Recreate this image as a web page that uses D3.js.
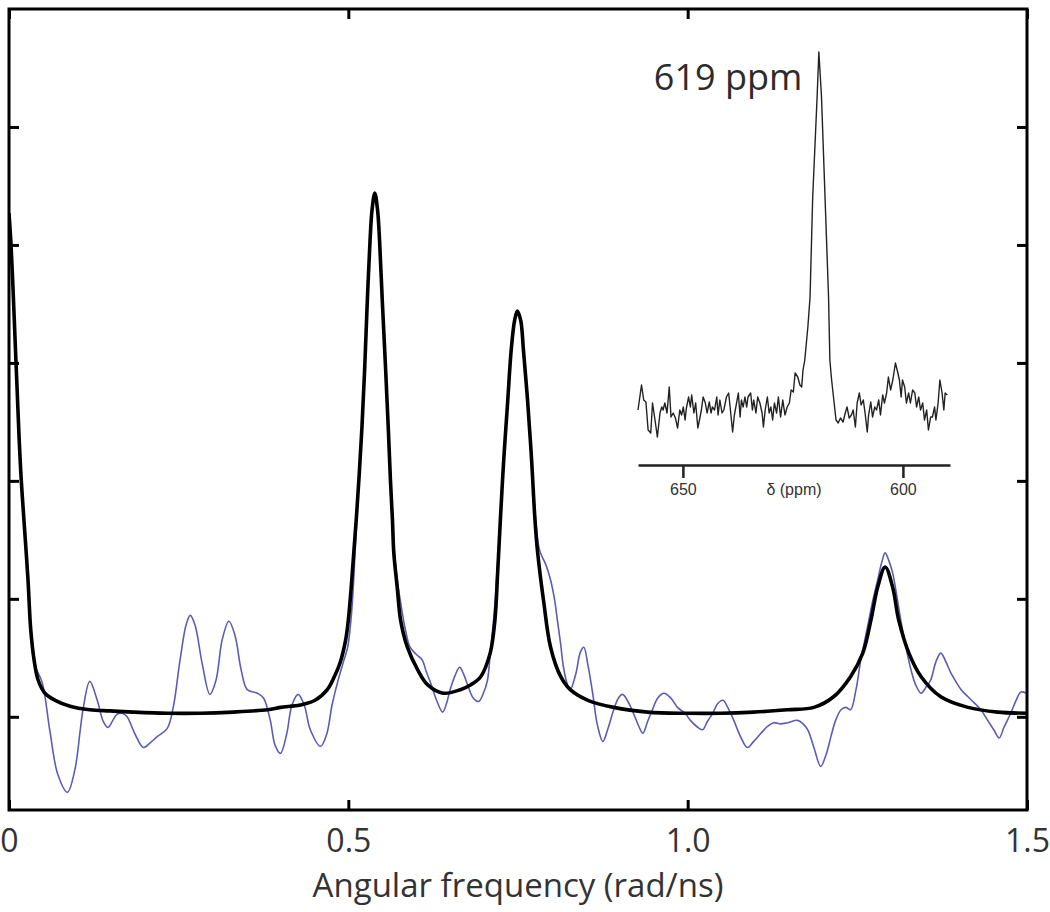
<!DOCTYPE html>
<html lang="en">
<head>
<meta charset="utf-8">
<title>Angular frequency spectrum</title>
<script src="https://cdn.jsdelivr.net/npm/d3@7"></script>
<style type="text/css">
  body { margin: 0; background: #ffffff; }
  .tick_label { font-family: "Open Sans", sans-serif; font-size: 32px; fill: #333333; }
  .axis_title { font-family: "Open Sans", sans-serif; font-size: 33px; fill: #333333; text-anchor: middle; }
  .inset_label { font-family: "Liberation Sans", Arial, sans-serif; font-size: 16px; fill: #333333; }
  .peak_label { font-family: "Open Sans", sans-serif; font-size: 36px; fill: #2b2b2b; text-anchor: end; }
</style>
</head>
<body>
<script type="text/javascript">
// ---- main spectrum: fitted curve (black) ----
var fitFreq = [0, .003, .006, .009, .012, .015, .018, .022, .028, .032, .037, .043, .053, .068, .090, .119, .149, .183, .233, .282,
  .330, .381, .400, .429, .451, .469, .481, .488, .496, .500, .504, .508, .512, .516, .520, .524, .528, .532, .535, .539,
  .543, .546, .550, .555, .559, .562, .565, .567, .572, .577, .587, .602, .617, .640, .665, .680, .695, .709, .716, .720,
  .724, .729, .735, .740, .745, .749, .754, .758, .764, .770, .775, .779, .788, .798, .813, .827, .853, .891, .941, 1.000,
  1.049, 1.097, 1.147, 1.186, 1.215, 1.240, 1.258, 1.270, 1.280, 1.291, 1.302, 1.311, 1.326, 1.344, 1.373, 1.413, 1.457, 1.5];
var fitAmp = [4.27, 4.00, 3.62, 3.19, 2.77, 2.35, 2.01, 1.67, 1.16, 0.74, 0.48, 0.31, 0.20, 0.14, 0.09, 0.06, 0.05, 0.04, 0.03, 0.03,
  0.04, 0.06, 0.08, 0.10, 0.14, 0.23, 0.36, 0.46, 0.65, 0.82, 1.08, 1.39, 1.70, 2.05, 2.45, 2.94, 3.53, 4.04, 4.30, 4.44,
  4.30, 4.04, 3.53, 2.94, 2.43, 2.01, 1.67, 1.39, 1.10, 0.82, 0.59, 0.40, 0.27, 0.20, 0.23, 0.27, 0.34, 0.54, 0.82, 1.22,
  1.67, 2.18, 2.69, 3.11, 3.36, 3.44, 3.36, 3.11, 2.69, 2.18, 1.67, 1.39, 0.97, 0.59, 0.34, 0.23, 0.14, 0.08, 0.04, 0.03,
  0.03, 0.04, 0.06, 0.08, 0.17, 0.34, 0.54, 0.82, 1.10, 1.27, 1.10, 0.82, 0.54, 0.34, 0.17, 0.08, 0.04, 0.03];

// ---- main spectrum: raw transform (blue) ----
var rawFreq = [0, .003, .006, .009, .012, .015, .018, .022, .028, .032, .038, .049, .060, .072, .086, .097, .105, .109, .119, .130,
  .139, .146, .153, .159, .167, .174, .186, .198, .208, .218, .233, .242, .252, .261, .267, .274, .285, .296, .305, .314,
  .324, .333, .342, .351, .366, .375, .385, .392, .400, .409, .417, .426, .435, .444, .459, .468, .476, .484, .493, .499,
  .505, .510, .516, .520, .524, .528, .532, .535, .539, .543, .546, .550, .555, .559, .562, .565, .568, .572, .577, .584,
  .591, .600, .609, .615, .621, .630, .639, .645, .650, .658, .664, .670, .677, .684, .692, .699, .705, .709, .714, .718,
  .721, .724, .729, .735, .740, .745, .749, .754, .758, .764, .770, .776, .780, .783, .791, .798, .804, .808, .813, .817,
  .823, .827, .835, .842, .847, .853, .860, .867, .875, .882, .891, .898, .904, .912, .920, .928, .934, .941, .948, .956,
  .965, .975, .985, .996, 1.004, 1.013, 1.022, 1.029, 1.037, 1.044, 1.052, 1.059, 1.068, 1.078, 1.088, 1.097, 1.108, 1.118, 1.127, 1.137,
  1.147, 1.162, 1.170, 1.177, 1.186, 1.196, 1.204, 1.211, 1.218, 1.226, 1.233, 1.240, 1.248, 1.255, 1.261, 1.267, 1.273, 1.280, 1.286, 1.291,
  1.296, 1.302, 1.308, 1.314, 1.322, 1.329, 1.336, 1.344, 1.351, 1.358, 1.366, 1.373, 1.381, 1.388, 1.395, 1.403, 1.413, 1.422, 1.432, 1.442,
  1.451, 1.459, 1.466, 1.476, 1.484, 1.491, 1.499];
var rawAmp = [4.27, 4.00, 3.62, 3.19, 2.77, 2.35, 2.01, 1.67, 1.16, 0.74, 0.44, 0.29, -0.11, -0.49, -0.64, -0.45, -0.11, 0.06, 0.30, 0.14,
  -0.04, -0.09, -0.03, 0.02, 0.03, 0, -0.15, -0.26, -0.22, -0.17, -0.10, 0.08, 0.48, 0.78, 0.86, 0.78, 0.44, 0.19, 0.31, 0.65,
  0.81, 0.69, 0.40, 0.23, 0.20, 0.16, -0.03, -0.24, -0.31, -0.15, 0.10, 0.19, 0.10, -0.11, -0.25, -0.15, 0.10, 0.29, 0.47, 0.59,
  0.90, 1.40, 2.05, 2.45, 2.94, 3.53, 4.04, 4.30, 4.44, 4.30, 4.04, 3.53, 2.94, 2.43, 2.01, 1.67, 1.39, 1.16, 0.97, 0.74,
  0.59, 0.53, 0.48, 0.38, 0.29, 0.14, 0.04, 0.12, 0.23, 0.36, 0.42, 0.36, 0.25, 0.16, 0.13, 0.20, 0.31, 0.53, 0.82, 1.12,
  1.39, 1.67, 2.18, 2.69, 3.11, 3.36, 3.44, 3.36, 3.11, 2.69, 2.18, 1.67, 1.46, 1.39, 1.29, 1.16, 0.99, 0.82, 0.61, 0.42,
  0.27, 0.23, 0.36, 0.55, 0.59, 0.44, 0.20, -0.07, -0.21, -0.11, 0.06, 0.16, 0.19, 0.13, 0.03, -0.08, -0.14, -0.04, 0.06, 0.16,
  0.20, 0.16, 0.08, 0.03, -0.03, -0.08, -0.11, -0.04, 0.03, 0.11, 0.14, 0.08, -0.03, -0.17, -0.26, -0.21, -0.14, -0.08, -0.05, -0.06,
  -0.05, -0.03, -0.06, -0.11, -0.26, -0.42, -0.32, -0.17, -0.03, 0.06, 0.08, 0.06, 0.23, 0.48, 0.65, 0.82, 0.99, 1.16, 1.31, 1.39,
  1.33, 1.22, 1.03, 0.82, 0.58, 0.40, 0.27, 0.20, 0.25, 0.31, 0.47, 0.54, 0.46, 0.37, 0.30, 0.23, 0.17, 0.12, 0.06, -0.03,
  -0.11, -0.18, -0.09, 0.03, 0.14, 0.21, 0.20];

var xTicks = [0, 0.5, 1.0, 1.5];
var yTicks = [0, 1, 2, 3, 4, 5];

// ---- inset: chemical shift spectrum ----
var insetPpm = [660.2, 659.4, 658.9, 658.4, 657.9, 657.3, 656.9, 656.4, 655.8, 655.2, 654.8, 654.5, 654.1, 653.6, 653.1, 652.7, 652.2, 651.7, 651.2, 650.7,
  650.3, 649.9, 649.5, 649.2, 648.7, 648.3, 648.0, 647.5, 647.1, 646.6, 646.1, 645.8, 645.4, 644.9, 644.5, 644.0, 643.6, 643.3, 642.8, 642.3,
  642.0, 641.6, 641.1, 640.7, 640.1, 639.6, 639.2, 638.7, 638.3, 637.8, 637.4, 637.0, 636.7, 636.3, 635.9, 635.5, 635.2, 634.6, 634.2, 633.9,
  633.4, 633.0, 632.5, 632.0, 631.7, 631.3, 630.8, 630.4, 630.0, 629.6, 629.2, 628.7, 628.3, 627.8, 627.3, 626.8, 626.3, 625.8, 625.4, 624.9,
  624.5, 623.9, 623.4, 623.0, 622.7, 622.3, 621.6, 621.1, 620.5, 619.5, 619.1, 618.5, 617.7, 616.9, 616.6, 616.2, 615.7, 615.2, 614.7, 614.2,
  613.6, 613.1, 612.7, 612.2, 611.7, 611.3, 610.8, 610.4, 609.9, 609.5, 609.0, 608.6, 608.1, 607.8, 607.3, 606.9, 606.4, 606.0, 605.5, 605.1,
  604.6, 604.2, 603.7, 603.3, 602.8, 602.3, 601.7, 601.3, 600.8, 600.4, 600.1, 599.6, 599.2, 598.7, 598.3, 597.8, 597.3, 596.9, 596.4, 596.0,
  595.5, 595.1, 594.6, 594.2, 593.7, 593.3, 592.8, 592.5, 592.0, 591.6, 591.1, 590.7, 590.4, 589.9];
var insetInt = [10, 35, 20, 18, -10, -13, 17, 2, -17, 7, 13, 10, 17, 7, 33, 3, 7, 2, -8, 10,
  5, 13, 0, 12, 23, 13, 25, 7, 17, -8, 3, 10, 23, 17, 7, 18, 7, 13, 10, 23,
  5, 20, 7, 10, 23, 27, 10, -12, 5, 17, 27, 3, 20, 13, 23, 13, 23, 27, 10, 20,
  7, 23, 17, 7, -7, 10, 23, 7, 13, 0, 17, 7, 23, 3, 20, 5, 13, 17, 30, 28,
  47, 43, 35, 33, 50, 60, 93, 123, 223, 323, 368, 323, 223, 123, 60, 40, 20, 0, -3, 2,
  -2, 7, 13, 2, 5, 10, -7, 17, 27, 15, 20, 7, -12, 5, 18, 3, 13, 10, 20, 5,
  25, 17, 27, 43, 30, 40, 57, 50, 40, 23, 40, 33, 17, 27, 17, 30, 27, 13, 23, 10,
  17, 0, 10, -10, 3, 3, 13, 0, 17, 40, 27, 10, 27, 25];
var insetTicks = [650, 600];
var peakPpm = 619;

var svgWidth = 1050;
var svgHeight = 912;

var svg = d3.select("body")
  .append("svg")
  .attr("width", svgWidth)
  .attr("height", svgHeight);

// main scales
var x = d3.scaleLinear().domain([0, 1.5]).range([9, 1027]);
var y = d3.scaleLinear().domain([-0.79, 6]).range([810, 9]);

svg.append("defs").append("clipPath")
  .attr("id", "plotClip")
  .append("rect")
  .attr("x", x(0)).attr("y", y(6))
  .attr("width", x(1.5) - x(0))
  .attr("height", y(-0.79) - y(6));

var line = d3.line()
  .x(function(d) { return x(d[0]); })
  .y(function(d) { return y(d[1]); })
  .curve(d3.curveCatmullRom.alpha(0.5));

var plot = svg.append("g").attr("clip-path", "url(#plotClip)");

plot.append("path")
  .datum(d3.zip(rawFreq, rawAmp))
  .attr("d", line)
  .attr("fill", "none")
  .attr("stroke", "#5c5cb8")
  .attr("stroke-width", 1.6);

plot.append("path")
  .datum(d3.zip(fitFreq, fitAmp))
  .attr("d", line)
  .attr("fill", "none")
  .attr("stroke", "#000000")
  .attr("stroke-width", 3.6)
  .attr("stroke-linejoin", "round");

// inward ticks on all four sides
function styleAxis(g) {
  g.select(".domain").remove();
  g.selectAll(".tick line").attr("stroke", "#000").attr("stroke-width", 3);
}

svg.append("g")
  .attr("transform", "translate(0," + y(-0.79) + ")")
  .call(d3.axisBottom(x).tickValues(xTicks).tickSize(-10).tickPadding(19)
    .tickFormat(function(d) { return d === 0 ? "0" : d3.format(".1f")(d); }))
  .call(styleAxis)
  .call(function(g) {
    g.selectAll("text").attr("class", "tick_label").attr("fill", null)
      .style("font-size", "32px");
  });

svg.append("g")
  .attr("transform", "translate(0," + y(6) + ")")
  .call(d3.axisTop(x).tickValues(xTicks).tickSize(-10).tickFormat(""))
  .call(styleAxis);

svg.append("g")
  .attr("transform", "translate(" + x(0) + ",0)")
  .call(d3.axisLeft(y).tickValues(yTicks).tickSize(-10).tickFormat(""))
  .call(styleAxis);

svg.append("g")
  .attr("transform", "translate(" + x(1.5) + ",0)")
  .call(d3.axisRight(y).tickValues(yTicks).tickSize(-10).tickFormat(""))
  .call(styleAxis);

// frame
svg.append("rect")
  .attr("x", x(0)).attr("y", y(6))
  .attr("width", x(1.5) - x(0))
  .attr("height", y(-0.79) - y(6))
  .attr("fill", "none")
  .attr("stroke", "#000")
  .attr("stroke-width", 3);

svg.append("text")
  .attr("class", "axis_title")
  .attr("x", (x(0) + x(1.5)) / 2)
  .attr("y", 897)
  .text("Angular frequency (rad/ns)");

// ---- inset ----
var ix = d3.scaleLinear().domain([660.2, 589.3]).range([638, 950]);
var iy = d3.scaleLinear().domain([0, 368]).range([420, 52]);

svg.append("path")
  .datum(d3.zip(insetPpm, insetInt))
  .attr("d", d3.line()
    .x(function(d) { return ix(d[0]); })
    .y(function(d) { return iy(d[1]); }))
  .attr("fill", "none")
  .attr("stroke", "#222")
  .attr("stroke-width", 1.4)
  .attr("stroke-linejoin", "round");

var insetAxis = svg.append("g")
  .attr("transform", "translate(0,465)")
  .call(d3.axisBottom(ix).tickValues(insetTicks).tickSize(13).tickSizeOuter(0).tickPadding(6));
insetAxis.select(".domain").attr("stroke", "#222").attr("stroke-width", 2.5);
insetAxis.selectAll(".tick line").attr("stroke", "#222").attr("stroke-width", 2.5);
insetAxis.selectAll("text").attr("class", "inset_label").attr("fill", null).style("font-size", "16px");

svg.append("text")
  .attr("class", "inset_label")
  .attr("x", (ix.range()[0] + ix.range()[1]) / 2)
  .attr("y", 495)
  .attr("text-anchor", "middle")
  .text("δ (ppm)");

svg.append("text")
  .attr("class", "peak_label")
  .attr("x", ix(peakPpm) - 17)
  .attr("y", iy(368) + 38)
  .text(peakPpm + " ppm");
</script>
</body>
</html>
